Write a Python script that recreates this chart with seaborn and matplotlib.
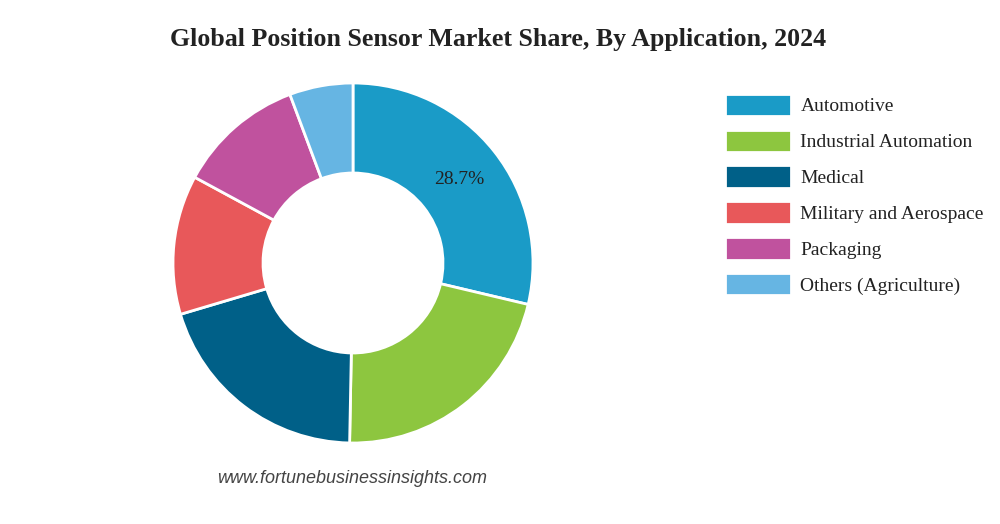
import matplotlib
matplotlib.use("Agg")
import matplotlib.pyplot as plt
import seaborn as sns

# Market share by application, 2024
applications = ["Automotive", "Industrial Automation", "Medical",
                "Military and Aerospace", "Packaging", "Others (Agriculture)"]
shares = [28.7, 21.6, 20.1, 12.5, 11.4, 5.7]
colors = ["#1a9bc7", "#8dc63f", "#006088", "#e8585a", "#c0529e", "#66b5e3"]

sns.set_theme(style="white")
plt.rcParams['font.family'] = ['Liberation Serif', 'DejaVu Serif']

fig = plt.figure(figsize=(10, 5.24), dpi=100)
fig.patch.set_facecolor("white")

# donut
ax = fig.add_axes([0.173, 0.1546, 0.36, 0.687])
wedges, texts, autotexts = ax.pie(
    shares, colors=colors, startangle=90, counterclock=False,
    autopct="%1.1f%%", pctdistance=0.75,
    wedgeprops=dict(width=0.5, edgecolor="white", linewidth=2),
    textprops=dict(fontsize=14, color="#222222"))
for i, t in enumerate(autotexts):
    if i != 0:
        t.set_visible(False)
ax.set_xlim(-1, 1)
ax.set_ylim(-1, 1)
ax.set_aspect("equal")
ax.axis("off")

fig.text(0.498, 0.925, "Global Position Sensor Market Share, By Application, 2024",
         ha="center", va="center", fontsize=18.6, fontweight="bold", color="#222222")

leg = fig.legend(wedges, applications, loc="upper left", bbox_to_anchor=(0.709, 0.851),
                 frameon=False, fontsize=14, handlelength=3.4, handleheight=1.4,
                 labelspacing=0.69, handletextpad=0.5, borderpad=0.3)
for t in leg.get_texts():
    t.set_color("#222222")

fig.text(0.352, 0.086, "www.fortunebusinessinsights.com", ha="center", va="center",
         fontsize=13, style="italic", color="#444444", family=["Liberation Sans"])

fig.savefig("out.png", dpi=100, facecolor="white")
